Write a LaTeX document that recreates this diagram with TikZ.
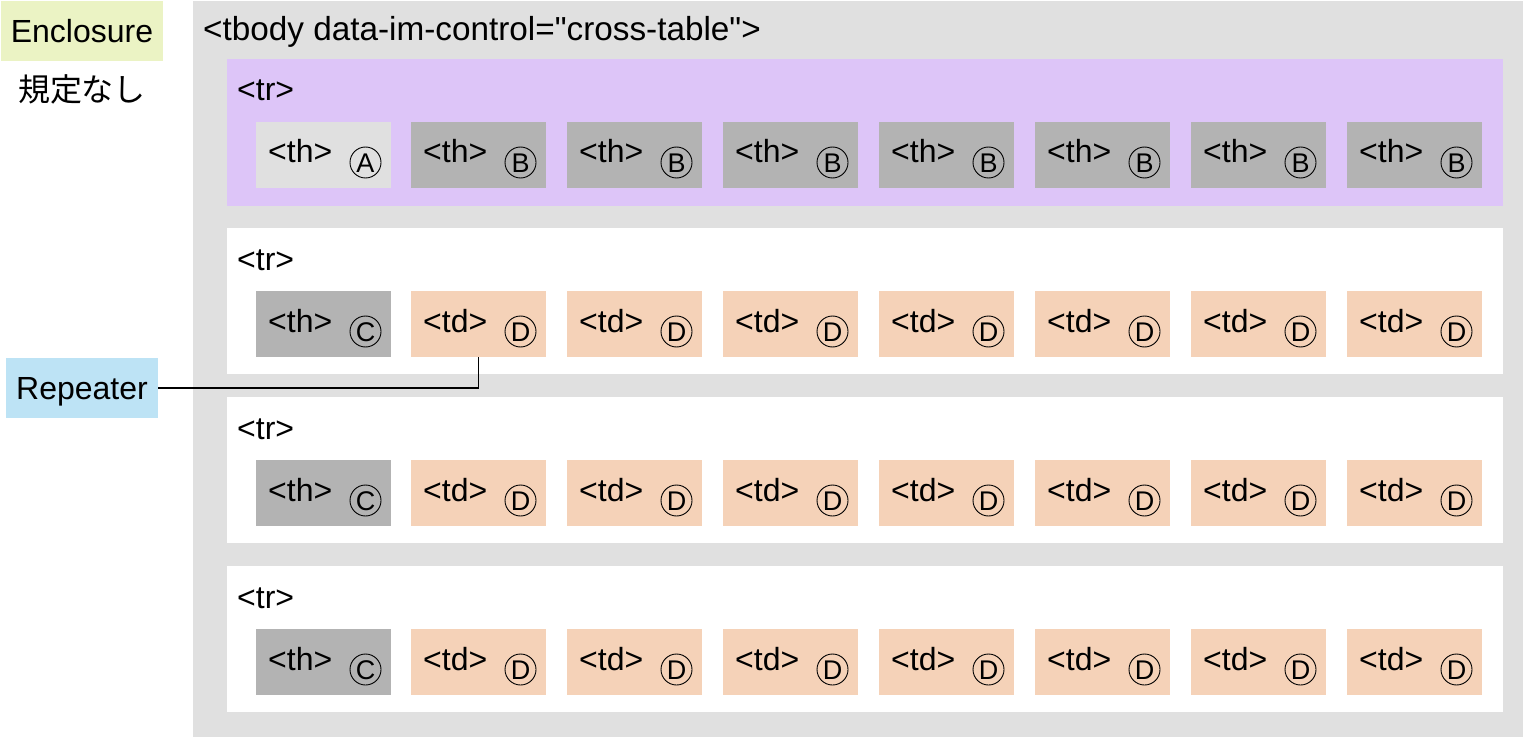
\documentclass[tikz,border=0pt]{standalone}
\usepackage{fontspec}
\setmainfont{Liberation Sans}[Ligatures=TeXOff]
\newfontfamily\jpfont{Noto Sans CJK JP}
\definecolor{tbodygrey}{HTML}{E0E0E0}
\definecolor{trpurple}{HTML}{DDC5F8}
\definecolor{thlight}{HTML}{E0E0E0}
\definecolor{thdark}{HTML}{B3B3B3}
\definecolor{tdpeach}{HTML}{F5D2B8}
\definecolor{enclgreen}{HTML}{EBF3C4}
\definecolor{repblue}{HTML}{BDE3F5}
\tikzset{
  box/.style={anchor=north west, inner sep=0pt, outer sep=0pt, draw=none},
  txt/.style={font=\fontsize{32}{38}\selectfont, inner sep=0pt, anchor=base west},
  lbl/.style={font=\fontsize{32}{38}\selectfont, inner sep=0pt, text height=23pt, text depth=0pt},
  circ/.style={circle, draw, line width=0.9pt, minimum size=31pt, inner sep=0pt,
    font=\fontsize{27}{27}\selectfont, text height=19.3pt, text depth=0pt},
  conn/.style={line width=1.8pt}
}
\begin{document}
\begin{tikzpicture}[x=1pt,y=-1pt]
\useasboundingbox (0,0) rectangle (1524,738);
% tbody
\node[box, fill=tbodygrey, minimum width=1330pt, minimum height=736pt] (tbody) at (193,1) {};
\node[txt, font=\fontsize{33.3}{38}\selectfont] (tbodylbl) at (203,41) {<tbody data-im-control="cross-table">};
% legend
\node[box, fill=enclgreen, minimum width=162pt, minimum height=60pt] (encl) at (1,1) {};
\node[lbl] (encltxt) at (encl.center) {Enclosure};
\node[font=\jpfont\fontsize{32}{36}\selectfont, inner sep=0pt] (kitei) at (82,89) {規定なし};
\node[box, fill=repblue, minimum width=152pt, minimum height=60pt] (rep) at (6,358) {};
\node[lbl] (reptxt) at (rep.center) {Repeater};
% rows
\foreach \r/\ry in {1/59,2/228,3/397,4/566}{
  \ifnum\r=1
    \node[box, fill=trpurple, minimum width=1276pt, minimum height=147pt] (tr\r) at (227,\ry) {};
  \else
    \node[box, fill=white, minimum width=1276pt, minimum height=146pt] (tr\r) at (227,\ry) {};
  \fi
  \node[txt] (trlbl\r) at (237,\ry+42) {<tr>};
  \foreach \c/\cx in {0/256,1/411,2/567,3/723,4/879,5/1035,6/1191,7/1347}{
    \pgfmathsetmacro{\cy}{\ry+63}
    \ifnum\r=1
      \ifnum\c=0
        \def\cfill{thlight}\def\ctag{<th>}\def\clet{A}
      \else
        \def\cfill{thdark}\def\ctag{<th>}\def\clet{B}
      \fi
    \else
      \ifnum\c=0
        \def\cfill{thdark}\def\ctag{<th>}\def\clet{C}
      \else
        \def\cfill{tdpeach}\def\ctag{<td>}\def\clet{D}
      \fi
    \fi
    \node[box, fill=\cfill, minimum width=135pt, minimum height=66pt] (cell-\r-\c) at (\cx,\cy) {};
    \node[txt] (tag-\r-\c) at (\cx+12,\cy+41) {\ctag};
    \node[circ] (let-\r-\c) at (\cx+109.5,\cy+40.5) {\clet};
  }
}
% connector
\draw[conn] (rep.east) -| (cell-2-1.south);
\end{tikzpicture}
\end{document}
